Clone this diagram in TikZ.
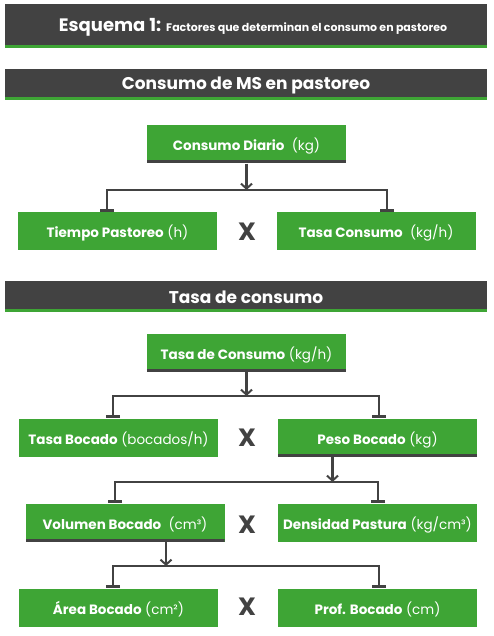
\documentclass[tikz,border=0pt]{standalone}
\usepackage{fontspec}
\setmainfont{Poppins}
\usetikzlibrary{arrows.meta}

\definecolor{verde}{RGB}{62,165,53}
\definecolor{gris}{RGB}{66,66,66}

\begin{document}
\begin{tikzpicture}[x=1pt,y=-1pt,
    caja/.style={fill=verde,text=white,minimum width=199pt,minimum height=38pt,inner sep=0pt,text height=14pt,text depth=1pt,font=\fontsize{13.5}{15}\selectfont},
    padre/.style={caja,path picture={\fill[gris] (path picture bounding box.south west) rectangle ([yshift=3pt]path picture bounding box.south east);}},
    cabecera/.style={fill=gris,text=white,minimum width=482pt,inner sep=0pt,path picture={\fill[verde] (path picture bounding box.south west) rectangle ([yshift=3pt]path picture bounding box.south east);}},
    por/.style={text=gris,font=\fontsize{25}{25}\selectfont\bfseries},
    flecha/.style={draw=gris,line width=2.2pt,-{Straight Barb[length=5pt,width=11pt,line width=2pt]}},
    rama/.style={draw=gris,line width=2.2pt,{Bar[width=14pt,line width=3pt]}-{Bar[width=14pt,line width=3pt]}}]

    \useasboundingbox (0,0) rectangle (493,636);

    \node[cabecera,minimum height=44pt] (h1) at (246,26) {};
    \node[text=white] (t1) at (253,27) {\fontsize{18}{18}\selectfont\bfseries Esquema 1: \fontsize{11}{11}\selectfont Factores que determinan el consumo en pastoreo};
    \node[cabecera,minimum height=31pt] (h2) at (246,84.5) {};
    \node[text=white,font=\fontsize{17}{17}\selectfont\bfseries] (t2) at (246,85.5) {Consumo de MS en pastoreo};

    \node[padre] (cd) at (246.5,144.5) {\textbf{Consumo Diario}\ \ (kg)};
    \node[caja] (tp) at (117.5,231) {\textbf{Tiempo Pastoreo} (h)};
    \node[caja] (tc) at (376,231) {\textbf{Tasa Consumo}\ \ (kg/h)};
    \node[por] (x1) at (247,232) {X};
    \coordinate (b1l) at (107,190);
    \coordinate (b1r) at (387,190);
    \draw[flecha] (cd.south) -- (cd.south |- b1l);
    \draw[rama] (tp.north -| b1l) -- (b1l) -- (b1r) -- (tc.north -| b1r);

    \node[cabecera,minimum height=31pt] (h3) at (246,296.5) {};
    \node[text=white,font=\fontsize{17}{17}\selectfont\bfseries] (t3) at (246,297) {Tasa de consumo};

    \node[padre] (tdc) at (246.5,352.5) {\textbf{Tasa de Consumo} (kg/h)};
    \node[caja] (tb) at (118.5,437.5) {\textbf{Tasa Bocado} (bocados/h)};
    \node[padre] (pb) at (377.5,437.5) {\textbf{Peso Bocado} (kg)};
    \node[por] (x2) at (247,438) {X};
    \coordinate (b2l) at (113,396);
    \coordinate (b2r) at (379,396);
    \draw[flecha] (tdc.south) -- (tdc.south |- b2l);
    \draw[rama] (tb.north -| b2l) -- (b2l) -- (b2r) -- (pb.north -| b2r);

    \node[padre] (vb) at (125,522.5) {\textbf{Volumen Bocado}\ \ (cm³)};
    \node[caja] (dp) at (377.5,522.5) {\textbf{Densidad Pastura} (kg/cm³)};
    \node[por] (x3) at (247,525) {X};
    \coordinate (b3l) at (115,482);
    \coordinate (b3r) at (378,482);
    \draw[flecha] ([xshift=-45pt]pb.south) -- ([xshift=-45pt]pb.south |- b3l);
    \draw[rama] (vb.north -| b3l) -- (b3l) -- (b3r) -- (dp.north -| b3r);

    \node[caja] (ab) at (118.5,607.5) {\textbf{Área Bocado} (cm²)};
    \node[caja] (prb) at (377.5,607.5) {\textbf{Prof. Bocado} (cm)};
    \node[por] (x4) at (247,607) {X};
    \coordinate (b4l) at (113,566);
    \coordinate (b4r) at (379,566);
    \draw[flecha] ([xshift=41pt]vb.south) -- ([xshift=41pt]vb.south |- b4l);
    \draw[rama] (ab.north -| b4l) -- (b4l) -- (b4r) -- (prb.north -| b4r);

\end{tikzpicture}
\end{document}
